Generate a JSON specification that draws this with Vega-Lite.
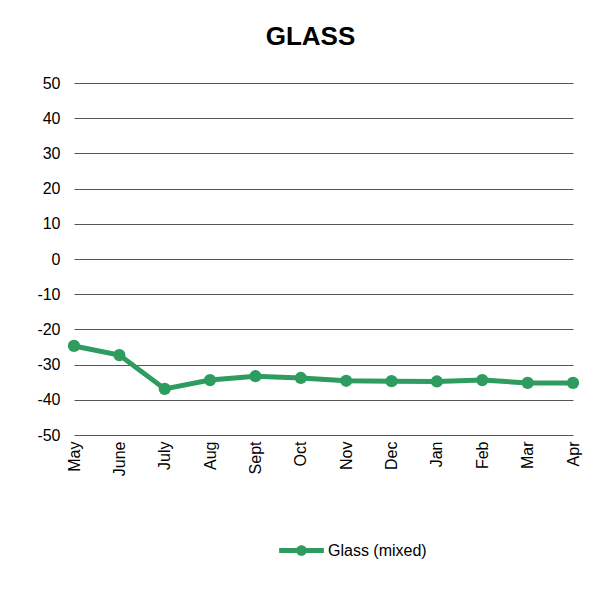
{
  "$schema": "https://vega.github.io/schema/vega-lite/v6.json",
  "width": 499,
  "height": 352,
  "autosize": {"type": "none"},
  "padding": {"left": 74, "top": 83, "right": 25, "bottom": 170},
  "background": "white",
  "title": {
    "text": "GLASS",
    "fontSize": 26,
    "font": "Liberation Sans",
    "fontWeight": "bold",
    "color": "black",
    "anchor": "middle",
    "dx": -13,
    "offset": 25
  },
  "data": {
    "values": [
      {"month": "May", "value": -24.7, "series": "Glass (mixed)"},
      {"month": "June", "value": -27.3, "series": "Glass (mixed)"},
      {"month": "July", "value": -36.9, "series": "Glass (mixed)"},
      {"month": "Aug", "value": -34.4, "series": "Glass (mixed)"},
      {"month": "Sept", "value": -33.3, "series": "Glass (mixed)"},
      {"month": "Oct", "value": -33.8, "series": "Glass (mixed)"},
      {"month": "Nov", "value": -34.6, "series": "Glass (mixed)"},
      {"month": "Dec", "value": -34.7, "series": "Glass (mixed)"},
      {"month": "Jan", "value": -34.8, "series": "Glass (mixed)"},
      {"month": "Feb", "value": -34.4, "series": "Glass (mixed)"},
      {"month": "Mar", "value": -35.2, "series": "Glass (mixed)"},
      {"month": "Apr", "value": -35.2, "series": "Glass (mixed)"}
    ]
  },
  "mark": {"type": "line", "strokeWidth": 5, "point": {"size": 150, "filled": true, "opacity": 1}},
  "encoding": {
    "x": {
      "field": "month",
      "type": "ordinal",
      "sort": null,
      "scale": {"type": "point", "padding": 0},
      "axis": {
        "title": null,
        "labelAngle": -90,
        "labelFontSize": 16,
        "labelFont": "Liberation Sans",
        "labelColor": "black",
        "labelPadding": 6,
        "domain": false,
        "ticks": false,
        "grid": false
      }
    },
    "y": {
      "field": "value",
      "type": "quantitative",
      "scale": {"domain": [-50, 50], "nice": false},
      "axis": {
        "title": null,
        "values": [-50, -40, -30, -20, -10, 0, 10, 20, 30, 40, 50],
        "labelExpr": "'' + datum.value",
        "labelFontSize": 16,
        "labelFont": "Liberation Sans",
        "labelColor": "black",
        "labelPadding": 14,
        "domain": false,
        "ticks": false,
        "grid": true,
        "gridColor": "#555555",
        "gridWidth": 1,
        "gridOpacity": 1
      }
    },
    "color": {
      "field": "series",
      "type": "nominal",
      "scale": {"range": ["#2E9B5F"]},
      "legend": {
        "title": null,
        "orient": "none",
        "legendX": 205,
        "legendY": 445,
        "labelFontSize": 16,
        "labelFont": "Liberation Sans",
        "labelColor": "black",
        "labelOffset": 4,
        "symbolType": "M -1 -0.11 L 1 -0.11 L 1 0.11 L -1 0.11 Z M 0.24 0 A 0.24 0.24 0 1 1 -0.24 0 A 0.24 0.24 0 1 1 0.24 0 Z",
        "symbolSize": 2000,
        "symbolFillColor": "#2E9B5F",
        "symbolStrokeWidth": 0
      }
    }
  },
  "config": {
    "view": {"stroke": null}
  }
}
